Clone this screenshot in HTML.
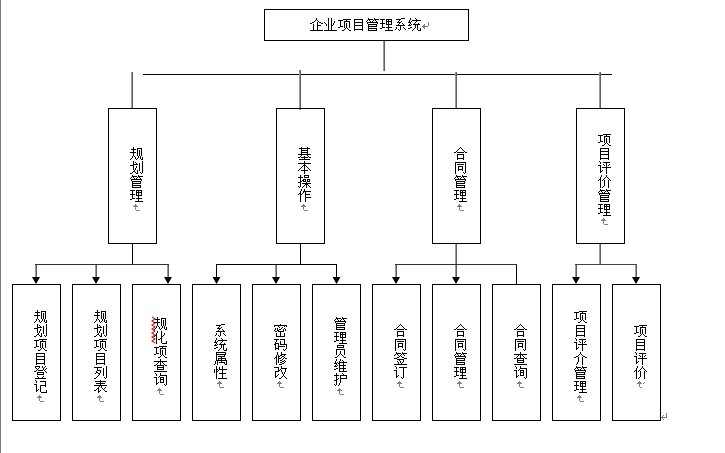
<!DOCTYPE html>
<html><head><meta charset="utf-8"><title>企业项目管理系统</title>
<style>html,body{margin:0;padding:0;background:#fff;width:725px;height:453px;overflow:hidden;font-family:"Liberation Sans",sans-serif;}svg{display:block}</style>
</head><body>
<svg width="725" height="453" viewBox="0 0 725 453" shape-rendering="crispEdges">
<rect width="725" height="453" fill="#fff"/>
<rect x="0" y="0" width="1" height="453" fill="#7a7a7a"/><path d="M264 9h205v1h-205z M264 40h205v1h-205z M264 9h1v32h-1z M468 9h1v32h-1z" fill="#000"/><rect x="383" y="41" width="1" height="30" fill="#9a9a9a"/><rect x="384" y="41" width="1" height="30" fill="#606060"/><rect x="143" y="74" width="469" height="1" fill="#000"/><rect x="131" y="72" width="1" height="36" fill="#9a9a9a"/><rect x="132" y="72" width="1" height="36" fill="#606060"/><rect x="299" y="70" width="1" height="40" fill="#9a9a9a"/><rect x="300" y="70" width="1" height="40" fill="#606060"/><rect x="455" y="72" width="1" height="36" fill="#9a9a9a"/><rect x="456" y="72" width="1" height="36" fill="#606060"/><rect x="599" y="72" width="1" height="36" fill="#9a9a9a"/><rect x="600" y="72" width="1" height="36" fill="#606060"/><path d="M108 108h49v1h-49z M108 243h49v1h-49z M108 108h1v136h-1z M156 108h1v136h-1z" fill="#000"/><path d="M276 108h49v1h-49z M276 243h49v1h-49z M276 108h1v136h-1z M324 108h1v136h-1z" fill="#000"/><path d="M432 108h49v1h-49z M432 243h49v1h-49z M432 108h1v136h-1z M480 108h1v136h-1z" fill="#000"/><path d="M576 108h49v1h-49z M576 243h49v1h-49z M576 108h1v136h-1z M624 108h1v136h-1z" fill="#000"/><rect x="132" y="244" width="1" height="20" fill="#000"/><rect x="300" y="244" width="1" height="20" fill="#000"/><rect x="455" y="244" width="1" height="33" fill="#9a9a9a"/><rect x="456" y="244" width="1" height="33" fill="#606060"/><rect x="599" y="244" width="1" height="20" fill="#9a9a9a"/><rect x="600" y="244" width="1" height="20" fill="#606060"/><rect x="35" y="264" width="134" height="1" fill="#333"/><rect x="216" y="264" width="121" height="1" fill="#000"/><rect x="395" y="264" width="122" height="1" fill="#333"/><rect x="575" y="264" width="62" height="1" fill="#444"/><rect x="35" y="265" width="1" height="12" fill="#9a9a9a"/><rect x="36" y="265" width="1" height="12" fill="#606060"/><rect x="95" y="265" width="1" height="12" fill="#9a9a9a"/><rect x="96" y="265" width="1" height="12" fill="#606060"/><rect x="167" y="265" width="1" height="12" fill="#9a9a9a"/><rect x="168" y="265" width="1" height="12" fill="#606060"/><rect x="275" y="265" width="1" height="12" fill="#9a9a9a"/><rect x="276" y="265" width="1" height="12" fill="#606060"/><rect x="395" y="265" width="1" height="12" fill="#9a9a9a"/><rect x="396" y="265" width="1" height="12" fill="#606060"/><rect x="575" y="265" width="1" height="12" fill="#9a9a9a"/><rect x="576" y="265" width="1" height="12" fill="#606060"/><rect x="635" y="265" width="1" height="12" fill="#9a9a9a"/><rect x="636" y="265" width="1" height="12" fill="#606060"/><rect x="216" y="265" width="1" height="12" fill="#000"/><rect x="336" y="265" width="1" height="12" fill="#000"/><rect x="516" y="265" width="1" height="19" fill="#000"/><path d="M32 277L40 277L36 284Z M92 277L100 277L96 284Z M164 277L172 277L168 284Z M272 277L280 277L276 284Z M392 277L400 277L396 284Z M452 277L460 277L456 284Z M572 277L580 277L576 284Z M632 277L640 277L636 284Z M212.5 277L220.5 277L216.5 284Z M332.5 277L340.5 277L336.5 284Z" fill="#000" shape-rendering="geometricPrecision"/><path d="M12 284h49v1h-49z M12 420h49v1h-49z M12 284h1v137h-1z M60 284h1v137h-1z" fill="#000"/><path d="M72 284h49v1h-49z M72 420h49v1h-49z M72 284h1v137h-1z M120 284h1v137h-1z" fill="#000"/><path d="M132 284h49v1h-49z M132 420h49v1h-49z M132 284h1v137h-1z M180 284h1v137h-1z" fill="#000"/><path d="M192 284h49v1h-49z M192 420h49v1h-49z M192 284h1v137h-1z M240 284h1v137h-1z" fill="#000"/><path d="M252 284h49v1h-49z M252 420h49v1h-49z M252 284h1v137h-1z M300 284h1v137h-1z" fill="#000"/><path d="M312 284h49v1h-49z M312 420h49v1h-49z M312 284h1v137h-1z M360 284h1v137h-1z" fill="#000"/><path d="M372 284h49v1h-49z M372 420h49v1h-49z M372 284h1v137h-1z M420 284h1v137h-1z" fill="#000"/><path d="M432 284h49v1h-49z M432 420h49v1h-49z M432 284h1v137h-1z M480 284h1v137h-1z" fill="#000"/><path d="M492 284h49v1h-49z M492 420h49v1h-49z M492 284h1v137h-1z M540 284h1v137h-1z" fill="#000"/><path d="M552 284h49v1h-49z M552 420h49v1h-49z M552 284h1v137h-1z M600 284h1v137h-1z" fill="#000"/><path d="M612 284h49v1h-49z M612 420h49v1h-49z M612 284h1v137h-1z M660 284h1v137h-1z" fill="#000"/><polyline points="152.0,317 155.0,319 152.0,321 155.0,323 152.0,325 155.0,327 152.0,329 155.0,331 152.0,333 155.0,335 152.0,337 155.0,339 152.0,341 155.0,343" fill="none" stroke="#c81e1e" stroke-width="1.1" shape-rendering="geometricPrecision"/>
<path d="M316 18h1v1h-1zM316 19h1v1h-1zM315 20h1v1h-1zM317 20h1v1h-1zM314 21h1v1h-1zM318 21h1v1h-1zM312 22h2v1h-2zM317 22h1v1h-1zM319 22h2v1h-2zM310 23h2v1h-2zM317 23h1v1h-1zM321 23h2v1h-2zM313 24h1v1h-1zM317 24h1v1h-1zM313 25h1v1h-1zM317 25h4v1h-4zM313 26h1v1h-1zM317 26h1v1h-1zM313 27h1v1h-1zM317 27h1v1h-1zM313 28h1v1h-1zM317 28h1v1h-1zM313 29h1v1h-1zM317 29h1v1h-1zM310 30h13v1h-13zM328 18h1v1h-1zM331 18h1v1h-1zM328 19h1v1h-1zM331 19h1v1h-1zM328 20h1v1h-1zM331 20h1v1h-1zM328 21h1v1h-1zM331 21h1v1h-1zM334 21h1v1h-1zM324 22h1v1h-1zM328 22h1v1h-1zM331 22h1v1h-1zM334 22h1v1h-1zM325 23h1v1h-1zM328 23h1v1h-1zM331 23h1v1h-1zM333 23h1v1h-1zM326 24h1v1h-1zM328 24h1v1h-1zM331 24h1v1h-1zM333 24h1v1h-1zM326 25h1v1h-1zM328 25h1v1h-1zM331 25h2v1h-2zM328 26h1v1h-1zM331 26h1v1h-1zM328 27h1v1h-1zM331 27h1v1h-1zM328 28h1v1h-1zM331 28h1v1h-1zM328 29h1v1h-1zM331 29h1v1h-1zM324 30h13v1h-13zM343 19h8v1h-8zM338 20h5v1h-5zM346 20h1v1h-1zM340 21h1v1h-1zM344 21h6v1h-6zM340 22h1v1h-1zM344 22h1v1h-1zM349 22h1v1h-1zM340 23h1v1h-1zM344 23h1v1h-1zM346 23h1v1h-1zM349 23h1v1h-1zM340 24h1v1h-1zM344 24h1v1h-1zM346 24h1v1h-1zM349 24h1v1h-1zM340 25h1v1h-1zM344 25h1v1h-1zM346 25h1v1h-1zM349 25h1v1h-1zM340 26h3v1h-3zM344 26h1v1h-1zM346 26h1v1h-1zM349 26h1v1h-1zM338 27h2v1h-2zM344 27h1v1h-1zM346 27h1v1h-1zM349 27h1v1h-1zM345 28h1v1h-1zM347 28h1v1h-1zM344 29h1v1h-1zM348 29h1v1h-1zM342 30h2v1h-2zM349 30h2v1h-2zM354 19h9v1h-9zM354 20h1v1h-1zM362 20h1v1h-1zM354 21h1v1h-1zM362 21h1v1h-1zM354 22h9v1h-9zM354 23h1v1h-1zM362 23h1v1h-1zM354 24h1v1h-1zM362 24h1v1h-1zM354 25h9v1h-9zM354 26h1v1h-1zM362 26h1v1h-1zM354 27h1v1h-1zM362 27h1v1h-1zM354 28h1v1h-1zM362 28h1v1h-1zM354 29h9v1h-9zM354 30h1v1h-1zM362 30h1v1h-1zM368 18h1v1h-1zM374 18h1v1h-1zM368 19h5v1h-5zM374 19h5v1h-5zM367 20h1v1h-1zM369 20h1v1h-1zM373 20h1v1h-1zM375 20h1v1h-1zM366 21h1v1h-1zM370 21h1v1h-1zM372 21h1v1h-1zM376 21h1v1h-1zM367 22h11v1h-11zM367 23h1v1h-1zM377 23h1v1h-1zM368 24h9v1h-9zM368 25h1v1h-1zM376 25h1v1h-1zM368 26h9v1h-9zM368 27h1v1h-1zM368 28h9v1h-9zM368 29h1v1h-1zM376 29h1v1h-1zM368 30h9v1h-9zM380 19h5v1h-5zM386 19h6v1h-6zM382 20h1v1h-1zM386 20h1v1h-1zM388 20h1v1h-1zM391 20h1v1h-1zM382 21h1v1h-1zM386 21h6v1h-6zM382 22h1v1h-1zM386 22h1v1h-1zM388 22h1v1h-1zM391 22h1v1h-1zM380 23h5v1h-5zM386 23h1v1h-1zM388 23h1v1h-1zM391 23h1v1h-1zM382 24h1v1h-1zM386 24h6v1h-6zM382 25h1v1h-1zM388 25h1v1h-1zM382 26h1v1h-1zM388 26h1v1h-1zM382 27h3v1h-3zM386 27h6v1h-6zM380 28h2v1h-2zM388 28h1v1h-1zM388 29h1v1h-1zM385 30h8v1h-8zM401 18h4v1h-4zM396 19h5v1h-5zM399 20h1v1h-1zM398 21h1v1h-1zM401 21h1v1h-1zM397 22h4v1h-4zM399 23h1v1h-1zM402 23h1v1h-1zM398 24h1v1h-1zM403 24h1v1h-1zM396 25h9v1h-9zM400 26h1v1h-1zM396 27h1v1h-1zM400 27h1v1h-1zM403 27h1v1h-1zM396 28h1v1h-1zM400 28h1v1h-1zM404 28h1v1h-1zM395 29h1v1h-1zM398 29h1v1h-1zM400 29h1v1h-1zM405 29h1v1h-1zM399 30h1v1h-1zM410 18h1v1h-1zM415 18h1v1h-1zM410 19h1v1h-1zM416 19h1v1h-1zM409 20h1v1h-1zM412 20h9v1h-9zM409 21h1v1h-1zM411 21h1v1h-1zM416 21h1v1h-1zM408 22h3v1h-3zM415 22h1v1h-1zM410 23h1v1h-1zM414 23h1v1h-1zM418 23h1v1h-1zM409 24h1v1h-1zM411 24h1v1h-1zM413 24h7v1h-7zM408 25h3v1h-3zM415 25h1v1h-1zM417 25h1v1h-1zM415 26h1v1h-1zM417 26h1v1h-1zM410 27h2v1h-2zM415 27h1v1h-1zM417 27h1v1h-1zM408 28h2v1h-2zM414 28h1v1h-1zM417 28h1v1h-1zM420 28h1v1h-1zM413 29h1v1h-1zM417 29h1v1h-1zM420 29h1v1h-1zM412 30h1v1h-1zM418 30h3v1h-3zM133 147h1v1h-1zM133 148h1v1h-1zM137 148h5v1h-5zM131 149h5v1h-5zM137 149h1v1h-1zM141 149h1v1h-1zM133 150h1v1h-1zM137 150h1v1h-1zM139 150h1v1h-1zM141 150h1v1h-1zM133 151h1v1h-1zM137 151h1v1h-1zM139 151h1v1h-1zM141 151h1v1h-1zM130 152h6v1h-6zM137 152h1v1h-1zM139 152h1v1h-1zM141 152h1v1h-1zM133 153h1v1h-1zM137 153h1v1h-1zM139 153h1v1h-1zM141 153h1v1h-1zM133 154h1v1h-1zM137 154h1v1h-1zM139 154h1v1h-1zM141 154h1v1h-1zM133 155h1v1h-1zM137 155h1v1h-1zM139 155h1v1h-1zM141 155h1v1h-1zM132 156h1v1h-1zM134 156h1v1h-1zM138 156h1v1h-1zM140 156h1v1h-1zM132 157h1v1h-1zM135 157h1v1h-1zM138 157h1v1h-1zM140 157h1v1h-1zM142 157h1v1h-1zM131 158h1v1h-1zM135 158h1v1h-1zM137 158h1v1h-1zM140 158h1v1h-1zM142 158h1v1h-1zM130 159h1v1h-1zM136 159h1v1h-1zM141 159h2v1h-2zM133 161h1v1h-1zM142 161h1v1h-1zM133 162h1v1h-1zM135 162h1v1h-1zM142 162h1v1h-1zM133 163h1v1h-1zM136 163h1v1h-1zM139 163h1v1h-1zM142 163h1v1h-1zM133 164h5v1h-5zM139 164h1v1h-1zM142 164h1v1h-1zM130 165h4v1h-4zM139 165h1v1h-1zM142 165h1v1h-1zM133 166h1v1h-1zM136 166h1v1h-1zM139 166h1v1h-1zM142 166h1v1h-1zM133 167h1v1h-1zM136 167h1v1h-1zM139 167h1v1h-1zM142 167h1v1h-1zM133 168h1v1h-1zM135 168h1v1h-1zM139 168h1v1h-1zM142 168h1v1h-1zM133 169h1v1h-1zM135 169h1v1h-1zM139 169h1v1h-1zM142 169h1v1h-1zM134 170h1v1h-1zM137 170h1v1h-1zM139 170h1v1h-1zM142 170h1v1h-1zM133 171h2v1h-2zM137 171h1v1h-1zM142 171h1v1h-1zM132 172h1v1h-1zM135 172h1v1h-1zM137 172h1v1h-1zM140 172h1v1h-1zM142 172h1v1h-1zM130 173h2v1h-2zM136 173h2v1h-2zM141 173h1v1h-1zM132 175h1v1h-1zM138 175h1v1h-1zM132 176h5v1h-5zM138 176h5v1h-5zM131 177h1v1h-1zM133 177h1v1h-1zM137 177h1v1h-1zM139 177h1v1h-1zM130 178h1v1h-1zM134 178h1v1h-1zM136 178h1v1h-1zM140 178h1v1h-1zM131 179h11v1h-11zM131 180h1v1h-1zM141 180h1v1h-1zM132 181h9v1h-9zM132 182h1v1h-1zM140 182h1v1h-1zM132 183h9v1h-9zM132 184h1v1h-1zM132 185h9v1h-9zM132 186h1v1h-1zM140 186h1v1h-1zM132 187h9v1h-9zM130 190h5v1h-5zM136 190h6v1h-6zM132 191h1v1h-1zM136 191h1v1h-1zM138 191h1v1h-1zM141 191h1v1h-1zM132 192h1v1h-1zM136 192h6v1h-6zM132 193h1v1h-1zM136 193h1v1h-1zM138 193h1v1h-1zM141 193h1v1h-1zM130 194h5v1h-5zM136 194h1v1h-1zM138 194h1v1h-1zM141 194h1v1h-1zM132 195h1v1h-1zM136 195h6v1h-6zM132 196h1v1h-1zM138 196h1v1h-1zM132 197h1v1h-1zM138 197h1v1h-1zM132 198h3v1h-3zM136 198h6v1h-6zM130 199h2v1h-2zM138 199h1v1h-1zM138 200h1v1h-1zM135 201h8v1h-8zM301 147h1v1h-1zM307 147h1v1h-1zM299 148h11v1h-11zM301 149h1v1h-1zM307 149h1v1h-1zM301 150h7v1h-7zM301 151h1v1h-1zM307 151h1v1h-1zM301 152h7v1h-7zM301 153h1v1h-1zM307 153h1v1h-1zM298 154h13v1h-13zM301 155h1v1h-1zM307 155h1v1h-1zM300 156h1v1h-1zM304 156h1v1h-1zM308 156h1v1h-1zM298 157h2v1h-2zM301 157h7v1h-7zM309 157h2v1h-2zM304 158h1v1h-1zM299 159h11v1h-11zM304 161h1v1h-1zM304 162h1v1h-1zM298 163h13v1h-13zM304 164h1v1h-1zM303 165h3v1h-3zM302 166h1v1h-1zM304 166h1v1h-1zM306 166h1v1h-1zM301 167h1v1h-1zM304 167h1v1h-1zM307 167h1v1h-1zM300 168h1v1h-1zM304 168h1v1h-1zM308 168h1v1h-1zM299 169h1v1h-1zM304 169h1v1h-1zM309 169h1v1h-1zM298 170h1v1h-1zM301 170h7v1h-7zM310 170h1v1h-1zM304 171h1v1h-1zM304 172h1v1h-1zM304 173h1v1h-1zM300 175h1v1h-1zM304 175h5v1h-5zM300 176h1v1h-1zM304 176h1v1h-1zM308 176h1v1h-1zM298 177h5v1h-5zM304 177h5v1h-5zM300 178h1v1h-1zM300 179h1v1h-1zM303 179h3v1h-3zM307 179h3v1h-3zM300 180h1v1h-1zM302 180h2v1h-2zM305 180h1v1h-1zM307 180h1v1h-1zM309 180h1v1h-1zM300 181h2v1h-2zM303 181h3v1h-3zM307 181h3v1h-3zM298 182h3v1h-3zM306 182h1v1h-1zM300 183h1v1h-1zM302 183h9v1h-9zM300 184h1v1h-1zM305 184h3v1h-3zM300 185h1v1h-1zM304 185h1v1h-1zM306 185h1v1h-1zM308 185h1v1h-1zM298 186h1v1h-1zM300 186h1v1h-1zM303 186h1v1h-1zM306 186h1v1h-1zM309 186h1v1h-1zM299 187h1v1h-1zM302 187h1v1h-1zM306 187h1v1h-1zM310 187h1v1h-1zM301 189h1v1h-1zM304 189h1v1h-1zM301 190h1v1h-1zM304 190h1v1h-1zM300 191h1v1h-1zM303 191h8v1h-8zM300 192h1v1h-1zM303 192h1v1h-1zM305 192h1v1h-1zM299 193h2v1h-2zM302 193h1v1h-1zM305 193h1v1h-1zM298 194h1v1h-1zM300 194h2v1h-2zM305 194h5v1h-5zM300 195h1v1h-1zM305 195h1v1h-1zM300 196h1v1h-1zM305 196h1v1h-1zM300 197h1v1h-1zM305 197h6v1h-6zM300 198h1v1h-1zM305 198h1v1h-1zM300 199h1v1h-1zM305 199h1v1h-1zM300 200h1v1h-1zM305 200h1v1h-1zM300 201h1v1h-1zM305 201h1v1h-1zM460 147h1v1h-1zM459 148h1v1h-1zM461 148h1v1h-1zM458 149h1v1h-1zM462 149h1v1h-1zM457 150h1v1h-1zM463 150h1v1h-1zM456 151h1v1h-1zM464 151h1v1h-1zM454 152h2v1h-2zM457 152h7v1h-7zM465 152h2v1h-2zM457 154h7v1h-7zM457 155h1v1h-1zM463 155h1v1h-1zM457 156h1v1h-1zM463 156h1v1h-1zM457 157h1v1h-1zM463 157h1v1h-1zM457 158h7v1h-7zM457 159h1v1h-1zM463 159h1v1h-1zM455 162h11v1h-11zM455 163h1v1h-1zM465 163h1v1h-1zM455 164h1v1h-1zM457 164h7v1h-7zM465 164h1v1h-1zM455 165h1v1h-1zM465 165h1v1h-1zM455 166h1v1h-1zM458 166h5v1h-5zM465 166h1v1h-1zM455 167h1v1h-1zM458 167h1v1h-1zM462 167h1v1h-1zM465 167h1v1h-1zM455 168h1v1h-1zM458 168h1v1h-1zM462 168h1v1h-1zM465 168h1v1h-1zM455 169h1v1h-1zM458 169h5v1h-5zM465 169h1v1h-1zM455 170h1v1h-1zM458 170h1v1h-1zM462 170h1v1h-1zM465 170h1v1h-1zM455 171h1v1h-1zM465 171h1v1h-1zM455 172h1v1h-1zM463 172h1v1h-1zM465 172h1v1h-1zM455 173h1v1h-1zM464 173h1v1h-1zM456 175h1v1h-1zM462 175h1v1h-1zM456 176h5v1h-5zM462 176h5v1h-5zM455 177h1v1h-1zM457 177h1v1h-1zM461 177h1v1h-1zM463 177h1v1h-1zM454 178h1v1h-1zM458 178h1v1h-1zM460 178h1v1h-1zM464 178h1v1h-1zM455 179h11v1h-11zM455 180h1v1h-1zM465 180h1v1h-1zM456 181h9v1h-9zM456 182h1v1h-1zM464 182h1v1h-1zM456 183h9v1h-9zM456 184h1v1h-1zM456 185h9v1h-9zM456 186h1v1h-1zM464 186h1v1h-1zM456 187h9v1h-9zM454 190h5v1h-5zM460 190h6v1h-6zM456 191h1v1h-1zM460 191h1v1h-1zM462 191h1v1h-1zM465 191h1v1h-1zM456 192h1v1h-1zM460 192h6v1h-6zM456 193h1v1h-1zM460 193h1v1h-1zM462 193h1v1h-1zM465 193h1v1h-1zM454 194h5v1h-5zM460 194h1v1h-1zM462 194h1v1h-1zM465 194h1v1h-1zM456 195h1v1h-1zM460 195h6v1h-6zM456 196h1v1h-1zM462 196h1v1h-1zM456 197h1v1h-1zM462 197h1v1h-1zM456 198h3v1h-3zM460 198h6v1h-6zM454 199h2v1h-2zM462 199h1v1h-1zM462 200h1v1h-1zM459 201h8v1h-8zM603 134h8v1h-8zM598 135h5v1h-5zM606 135h1v1h-1zM600 136h1v1h-1zM604 136h6v1h-6zM600 137h1v1h-1zM604 137h1v1h-1zM609 137h1v1h-1zM600 138h1v1h-1zM604 138h1v1h-1zM606 138h1v1h-1zM609 138h1v1h-1zM600 139h1v1h-1zM604 139h1v1h-1zM606 139h1v1h-1zM609 139h1v1h-1zM600 140h1v1h-1zM604 140h1v1h-1zM606 140h1v1h-1zM609 140h1v1h-1zM600 141h3v1h-3zM604 141h1v1h-1zM606 141h1v1h-1zM609 141h1v1h-1zM598 142h2v1h-2zM604 142h1v1h-1zM606 142h1v1h-1zM609 142h1v1h-1zM605 143h1v1h-1zM607 143h1v1h-1zM604 144h1v1h-1zM608 144h1v1h-1zM602 145h2v1h-2zM609 145h2v1h-2zM600 148h9v1h-9zM600 149h1v1h-1zM608 149h1v1h-1zM600 150h1v1h-1zM608 150h1v1h-1zM600 151h9v1h-9zM600 152h1v1h-1zM608 152h1v1h-1zM600 153h1v1h-1zM608 153h1v1h-1zM600 154h9v1h-9zM600 155h1v1h-1zM608 155h1v1h-1zM600 156h1v1h-1zM608 156h1v1h-1zM600 157h1v1h-1zM608 157h1v1h-1zM600 158h9v1h-9zM600 159h1v1h-1zM608 159h1v1h-1zM599 161h1v1h-1zM600 162h1v1h-1zM603 162h7v1h-7zM600 163h1v1h-1zM606 163h1v1h-1zM603 164h1v1h-1zM606 164h1v1h-1zM609 164h1v1h-1zM598 165h3v1h-3zM604 165h1v1h-1zM606 165h1v1h-1zM608 165h1v1h-1zM600 166h1v1h-1zM606 166h1v1h-1zM600 167h1v1h-1zM602 167h9v1h-9zM600 168h1v1h-1zM606 168h1v1h-1zM600 169h1v1h-1zM606 169h1v1h-1zM600 170h1v1h-1zM602 170h1v1h-1zM606 170h1v1h-1zM600 171h2v1h-2zM606 171h1v1h-1zM600 172h1v1h-1zM606 172h1v1h-1zM606 173h1v1h-1zM601 175h1v1h-1zM606 175h1v1h-1zM601 176h1v1h-1zM606 176h1v1h-1zM600 177h1v1h-1zM605 177h1v1h-1zM607 177h1v1h-1zM600 178h1v1h-1zM604 178h1v1h-1zM608 178h1v1h-1zM599 179h2v1h-2zM603 179h1v1h-1zM609 179h1v1h-1zM598 180h1v1h-1zM600 180h1v1h-1zM602 180h1v1h-1zM604 180h1v1h-1zM608 180h1v1h-1zM610 180h1v1h-1zM600 181h1v1h-1zM604 181h1v1h-1zM608 181h1v1h-1zM600 182h1v1h-1zM604 182h1v1h-1zM608 182h1v1h-1zM600 183h1v1h-1zM604 183h1v1h-1zM608 183h1v1h-1zM600 184h1v1h-1zM604 184h1v1h-1zM608 184h1v1h-1zM600 185h1v1h-1zM604 185h1v1h-1zM608 185h1v1h-1zM600 186h1v1h-1zM603 186h1v1h-1zM608 186h1v1h-1zM600 187h1v1h-1zM602 187h1v1h-1zM608 187h1v1h-1zM600 189h1v1h-1zM606 189h1v1h-1zM600 190h5v1h-5zM606 190h5v1h-5zM599 191h1v1h-1zM601 191h1v1h-1zM605 191h1v1h-1zM607 191h1v1h-1zM598 192h1v1h-1zM602 192h1v1h-1zM604 192h1v1h-1zM608 192h1v1h-1zM599 193h11v1h-11zM599 194h1v1h-1zM609 194h1v1h-1zM600 195h9v1h-9zM600 196h1v1h-1zM608 196h1v1h-1zM600 197h9v1h-9zM600 198h1v1h-1zM600 199h9v1h-9zM600 200h1v1h-1zM608 200h1v1h-1zM600 201h9v1h-9zM598 204h5v1h-5zM604 204h6v1h-6zM600 205h1v1h-1zM604 205h1v1h-1zM606 205h1v1h-1zM609 205h1v1h-1zM600 206h1v1h-1zM604 206h6v1h-6zM600 207h1v1h-1zM604 207h1v1h-1zM606 207h1v1h-1zM609 207h1v1h-1zM598 208h5v1h-5zM604 208h1v1h-1zM606 208h1v1h-1zM609 208h1v1h-1zM600 209h1v1h-1zM604 209h6v1h-6zM600 210h1v1h-1zM606 210h1v1h-1zM600 211h1v1h-1zM606 211h1v1h-1zM600 212h3v1h-3zM604 212h6v1h-6zM598 213h2v1h-2zM606 213h1v1h-1zM606 214h1v1h-1zM603 215h8v1h-8zM37 310h1v1h-1zM37 311h1v1h-1zM41 311h5v1h-5zM35 312h5v1h-5zM41 312h1v1h-1zM45 312h1v1h-1zM37 313h1v1h-1zM41 313h1v1h-1zM43 313h1v1h-1zM45 313h1v1h-1zM37 314h1v1h-1zM41 314h1v1h-1zM43 314h1v1h-1zM45 314h1v1h-1zM34 315h6v1h-6zM41 315h1v1h-1zM43 315h1v1h-1zM45 315h1v1h-1zM37 316h1v1h-1zM41 316h1v1h-1zM43 316h1v1h-1zM45 316h1v1h-1zM37 317h1v1h-1zM41 317h1v1h-1zM43 317h1v1h-1zM45 317h1v1h-1zM37 318h1v1h-1zM41 318h1v1h-1zM43 318h1v1h-1zM45 318h1v1h-1zM36 319h1v1h-1zM38 319h1v1h-1zM42 319h1v1h-1zM44 319h1v1h-1zM36 320h1v1h-1zM39 320h1v1h-1zM42 320h1v1h-1zM44 320h1v1h-1zM46 320h1v1h-1zM35 321h1v1h-1zM39 321h1v1h-1zM41 321h1v1h-1zM44 321h1v1h-1zM46 321h1v1h-1zM34 322h1v1h-1zM40 322h1v1h-1zM45 322h2v1h-2zM37 324h1v1h-1zM46 324h1v1h-1zM37 325h1v1h-1zM39 325h1v1h-1zM46 325h1v1h-1zM37 326h1v1h-1zM40 326h1v1h-1zM43 326h1v1h-1zM46 326h1v1h-1zM37 327h5v1h-5zM43 327h1v1h-1zM46 327h1v1h-1zM34 328h4v1h-4zM43 328h1v1h-1zM46 328h1v1h-1zM37 329h1v1h-1zM40 329h1v1h-1zM43 329h1v1h-1zM46 329h1v1h-1zM37 330h1v1h-1zM40 330h1v1h-1zM43 330h1v1h-1zM46 330h1v1h-1zM37 331h1v1h-1zM39 331h1v1h-1zM43 331h1v1h-1zM46 331h1v1h-1zM37 332h1v1h-1zM39 332h1v1h-1zM43 332h1v1h-1zM46 332h1v1h-1zM38 333h1v1h-1zM41 333h1v1h-1zM43 333h1v1h-1zM46 333h1v1h-1zM37 334h2v1h-2zM41 334h1v1h-1zM46 334h1v1h-1zM36 335h1v1h-1zM39 335h1v1h-1zM41 335h1v1h-1zM44 335h1v1h-1zM46 335h1v1h-1zM34 336h2v1h-2zM40 336h2v1h-2zM45 336h1v1h-1zM39 339h8v1h-8zM34 340h5v1h-5zM42 340h1v1h-1zM36 341h1v1h-1zM40 341h6v1h-6zM36 342h1v1h-1zM40 342h1v1h-1zM45 342h1v1h-1zM36 343h1v1h-1zM40 343h1v1h-1zM42 343h1v1h-1zM45 343h1v1h-1zM36 344h1v1h-1zM40 344h1v1h-1zM42 344h1v1h-1zM45 344h1v1h-1zM36 345h1v1h-1zM40 345h1v1h-1zM42 345h1v1h-1zM45 345h1v1h-1zM36 346h3v1h-3zM40 346h1v1h-1zM42 346h1v1h-1zM45 346h1v1h-1zM34 347h2v1h-2zM40 347h1v1h-1zM42 347h1v1h-1zM45 347h1v1h-1zM41 348h1v1h-1zM43 348h1v1h-1zM40 349h1v1h-1zM44 349h1v1h-1zM38 350h2v1h-2zM45 350h2v1h-2zM36 353h9v1h-9zM36 354h1v1h-1zM44 354h1v1h-1zM36 355h1v1h-1zM44 355h1v1h-1zM36 356h9v1h-9zM36 357h1v1h-1zM44 357h1v1h-1zM36 358h1v1h-1zM44 358h1v1h-1zM36 359h9v1h-9zM36 360h1v1h-1zM44 360h1v1h-1zM36 361h1v1h-1zM44 361h1v1h-1zM36 362h1v1h-1zM44 362h1v1h-1zM36 363h9v1h-9zM36 364h1v1h-1zM44 364h1v1h-1zM35 366h5v1h-5zM42 366h1v1h-1zM45 366h1v1h-1zM35 367h1v1h-1zM39 367h1v1h-1zM42 367h1v1h-1zM44 367h1v1h-1zM36 368h1v1h-1zM38 368h1v1h-1zM43 368h1v1h-1zM46 368h1v1h-1zM37 369h1v1h-1zM43 369h1v1h-1zM45 369h1v1h-1zM36 370h1v1h-1zM38 370h5v1h-5zM44 370h1v1h-1zM34 371h2v1h-2zM45 371h1v1h-1zM37 372h7v1h-7zM46 372h1v1h-1zM37 373h1v1h-1zM43 373h1v1h-1zM37 374h7v1h-7zM37 376h1v1h-1zM43 376h1v1h-1zM38 377h1v1h-1zM42 377h1v1h-1zM35 378h11v1h-11zM35 380h1v1h-1zM36 381h1v1h-1zM40 381h6v1h-6zM36 382h1v1h-1zM45 382h1v1h-1zM45 383h1v1h-1zM34 384h3v1h-3zM45 384h1v1h-1zM36 385h1v1h-1zM40 385h6v1h-6zM36 386h1v1h-1zM40 386h1v1h-1zM45 386h1v1h-1zM36 387h1v1h-1zM40 387h1v1h-1zM36 388h1v1h-1zM40 388h1v1h-1zM36 389h1v1h-1zM38 389h1v1h-1zM40 389h1v1h-1zM36 390h2v1h-2zM40 390h1v1h-1zM46 390h1v1h-1zM36 391h1v1h-1zM40 391h1v1h-1zM46 391h1v1h-1zM41 392h6v1h-6zM97 310h1v1h-1zM97 311h1v1h-1zM101 311h5v1h-5zM95 312h5v1h-5zM101 312h1v1h-1zM105 312h1v1h-1zM97 313h1v1h-1zM101 313h1v1h-1zM103 313h1v1h-1zM105 313h1v1h-1zM97 314h1v1h-1zM101 314h1v1h-1zM103 314h1v1h-1zM105 314h1v1h-1zM94 315h6v1h-6zM101 315h1v1h-1zM103 315h1v1h-1zM105 315h1v1h-1zM97 316h1v1h-1zM101 316h1v1h-1zM103 316h1v1h-1zM105 316h1v1h-1zM97 317h1v1h-1zM101 317h1v1h-1zM103 317h1v1h-1zM105 317h1v1h-1zM97 318h1v1h-1zM101 318h1v1h-1zM103 318h1v1h-1zM105 318h1v1h-1zM96 319h1v1h-1zM98 319h1v1h-1zM102 319h1v1h-1zM104 319h1v1h-1zM96 320h1v1h-1zM99 320h1v1h-1zM102 320h1v1h-1zM104 320h1v1h-1zM106 320h1v1h-1zM95 321h1v1h-1zM99 321h1v1h-1zM101 321h1v1h-1zM104 321h1v1h-1zM106 321h1v1h-1zM94 322h1v1h-1zM100 322h1v1h-1zM105 322h2v1h-2zM97 324h1v1h-1zM106 324h1v1h-1zM97 325h1v1h-1zM99 325h1v1h-1zM106 325h1v1h-1zM97 326h1v1h-1zM100 326h1v1h-1zM103 326h1v1h-1zM106 326h1v1h-1zM97 327h5v1h-5zM103 327h1v1h-1zM106 327h1v1h-1zM94 328h4v1h-4zM103 328h1v1h-1zM106 328h1v1h-1zM97 329h1v1h-1zM100 329h1v1h-1zM103 329h1v1h-1zM106 329h1v1h-1zM97 330h1v1h-1zM100 330h1v1h-1zM103 330h1v1h-1zM106 330h1v1h-1zM97 331h1v1h-1zM99 331h1v1h-1zM103 331h1v1h-1zM106 331h1v1h-1zM97 332h1v1h-1zM99 332h1v1h-1zM103 332h1v1h-1zM106 332h1v1h-1zM98 333h1v1h-1zM101 333h1v1h-1zM103 333h1v1h-1zM106 333h1v1h-1zM97 334h2v1h-2zM101 334h1v1h-1zM106 334h1v1h-1zM96 335h1v1h-1zM99 335h1v1h-1zM101 335h1v1h-1zM104 335h1v1h-1zM106 335h1v1h-1zM94 336h2v1h-2zM100 336h2v1h-2zM105 336h1v1h-1zM99 339h8v1h-8zM94 340h5v1h-5zM102 340h1v1h-1zM96 341h1v1h-1zM100 341h6v1h-6zM96 342h1v1h-1zM100 342h1v1h-1zM105 342h1v1h-1zM96 343h1v1h-1zM100 343h1v1h-1zM102 343h1v1h-1zM105 343h1v1h-1zM96 344h1v1h-1zM100 344h1v1h-1zM102 344h1v1h-1zM105 344h1v1h-1zM96 345h1v1h-1zM100 345h1v1h-1zM102 345h1v1h-1zM105 345h1v1h-1zM96 346h3v1h-3zM100 346h1v1h-1zM102 346h1v1h-1zM105 346h1v1h-1zM94 347h2v1h-2zM100 347h1v1h-1zM102 347h1v1h-1zM105 347h1v1h-1zM101 348h1v1h-1zM103 348h1v1h-1zM100 349h1v1h-1zM104 349h1v1h-1zM98 350h2v1h-2zM105 350h2v1h-2zM96 353h9v1h-9zM96 354h1v1h-1zM104 354h1v1h-1zM96 355h1v1h-1zM104 355h1v1h-1zM96 356h9v1h-9zM96 357h1v1h-1zM104 357h1v1h-1zM96 358h1v1h-1zM104 358h1v1h-1zM96 359h9v1h-9zM96 360h1v1h-1zM104 360h1v1h-1zM96 361h1v1h-1zM104 361h1v1h-1zM96 362h1v1h-1zM104 362h1v1h-1zM96 363h9v1h-9zM96 364h1v1h-1zM104 364h1v1h-1zM106 366h1v1h-1zM94 367h8v1h-8zM106 367h1v1h-1zM97 368h1v1h-1zM103 368h1v1h-1zM106 368h1v1h-1zM97 369h1v1h-1zM103 369h1v1h-1zM106 369h1v1h-1zM97 370h4v1h-4zM103 370h1v1h-1zM106 370h1v1h-1zM96 371h1v1h-1zM100 371h1v1h-1zM103 371h1v1h-1zM106 371h1v1h-1zM96 372h2v1h-2zM100 372h1v1h-1zM103 372h1v1h-1zM106 372h1v1h-1zM95 373h1v1h-1zM98 373h2v1h-2zM103 373h1v1h-1zM106 373h1v1h-1zM99 374h1v1h-1zM103 374h1v1h-1zM106 374h1v1h-1zM98 375h1v1h-1zM103 375h1v1h-1zM106 375h1v1h-1zM97 376h1v1h-1zM106 376h1v1h-1zM96 377h1v1h-1zM104 377h1v1h-1zM106 377h1v1h-1zM94 378h2v1h-2zM105 378h1v1h-1zM100 380h1v1h-1zM95 381h11v1h-11zM100 382h1v1h-1zM96 383h9v1h-9zM100 384h1v1h-1zM94 385h13v1h-13zM99 386h1v1h-1zM101 386h1v1h-1zM98 387h1v1h-1zM101 387h1v1h-1zM105 387h1v1h-1zM97 388h2v1h-2zM102 388h1v1h-1zM104 388h1v1h-1zM96 389h1v1h-1zM98 389h1v1h-1zM103 389h1v1h-1zM94 390h2v1h-2zM98 390h1v1h-1zM100 390h1v1h-1zM104 390h1v1h-1zM98 391h2v1h-2zM105 391h2v1h-2zM98 392h1v1h-1zM157 317h1v1h-1zM157 318h1v1h-1zM161 318h5v1h-5zM155 319h5v1h-5zM161 319h1v1h-1zM165 319h1v1h-1zM157 320h1v1h-1zM161 320h1v1h-1zM163 320h1v1h-1zM165 320h1v1h-1zM157 321h1v1h-1zM161 321h1v1h-1zM163 321h1v1h-1zM165 321h1v1h-1zM154 322h6v1h-6zM161 322h1v1h-1zM163 322h1v1h-1zM165 322h1v1h-1zM157 323h1v1h-1zM161 323h1v1h-1zM163 323h1v1h-1zM165 323h1v1h-1zM157 324h1v1h-1zM161 324h1v1h-1zM163 324h1v1h-1zM165 324h1v1h-1zM157 325h1v1h-1zM161 325h1v1h-1zM163 325h1v1h-1zM165 325h1v1h-1zM156 326h1v1h-1zM158 326h1v1h-1zM162 326h1v1h-1zM164 326h1v1h-1zM156 327h1v1h-1zM159 327h1v1h-1zM162 327h1v1h-1zM164 327h1v1h-1zM166 327h1v1h-1zM155 328h1v1h-1zM159 328h1v1h-1zM161 328h1v1h-1zM164 328h1v1h-1zM166 328h1v1h-1zM154 329h1v1h-1zM160 329h1v1h-1zM165 329h2v1h-2zM157 331h1v1h-1zM161 331h1v1h-1zM157 332h1v1h-1zM161 332h1v1h-1zM156 333h1v1h-1zM161 333h1v1h-1zM164 333h1v1h-1zM156 334h1v1h-1zM161 334h1v1h-1zM164 334h1v1h-1zM155 335h2v1h-2zM161 335h1v1h-1zM163 335h1v1h-1zM154 336h1v1h-1zM156 336h1v1h-1zM161 336h2v1h-2zM156 337h1v1h-1zM161 337h1v1h-1zM156 338h1v1h-1zM160 338h2v1h-2zM156 339h1v1h-1zM158 339h2v1h-2zM161 339h1v1h-1zM156 340h1v1h-1zM161 340h1v1h-1zM156 341h1v1h-1zM161 341h1v1h-1zM166 341h1v1h-1zM156 342h1v1h-1zM161 342h1v1h-1zM166 342h1v1h-1zM156 343h1v1h-1zM162 343h5v1h-5zM159 346h8v1h-8zM154 347h5v1h-5zM162 347h1v1h-1zM156 348h1v1h-1zM160 348h6v1h-6zM156 349h1v1h-1zM160 349h1v1h-1zM165 349h1v1h-1zM156 350h1v1h-1zM160 350h1v1h-1zM162 350h1v1h-1zM165 350h1v1h-1zM156 351h1v1h-1zM160 351h1v1h-1zM162 351h1v1h-1zM165 351h1v1h-1zM156 352h1v1h-1zM160 352h1v1h-1zM162 352h1v1h-1zM165 352h1v1h-1zM156 353h3v1h-3zM160 353h1v1h-1zM162 353h1v1h-1zM165 353h1v1h-1zM154 354h2v1h-2zM160 354h1v1h-1zM162 354h1v1h-1zM165 354h1v1h-1zM161 355h1v1h-1zM163 355h1v1h-1zM160 356h1v1h-1zM164 356h1v1h-1zM158 357h2v1h-2zM165 357h2v1h-2zM160 359h1v1h-1zM160 360h1v1h-1zM154 361h13v1h-13zM158 362h1v1h-1zM160 362h1v1h-1zM162 362h1v1h-1zM157 363h1v1h-1zM160 363h1v1h-1zM163 363h1v1h-1zM156 364h1v1h-1zM160 364h1v1h-1zM164 364h1v1h-1zM154 365h2v1h-2zM157 365h7v1h-7zM165 365h2v1h-2zM157 366h1v1h-1zM163 366h1v1h-1zM157 367h7v1h-7zM157 368h1v1h-1zM163 368h1v1h-1zM157 369h7v1h-7zM154 371h13v1h-13zM155 373h1v1h-1zM160 373h1v1h-1zM156 374h1v1h-1zM160 374h1v1h-1zM156 375h1v1h-1zM160 375h7v1h-7zM159 376h1v1h-1zM166 376h1v1h-1zM154 377h3v1h-3zM158 377h1v1h-1zM160 377h4v1h-4zM166 377h1v1h-1zM156 378h1v1h-1zM160 378h1v1h-1zM163 378h1v1h-1zM166 378h1v1h-1zM156 379h1v1h-1zM160 379h4v1h-4zM166 379h1v1h-1zM156 380h1v1h-1zM160 380h1v1h-1zM163 380h1v1h-1zM166 380h1v1h-1zM156 381h1v1h-1zM160 381h1v1h-1zM163 381h1v1h-1zM166 381h1v1h-1zM156 382h1v1h-1zM158 382h1v1h-1zM160 382h4v1h-4zM166 382h1v1h-1zM156 383h2v1h-2zM166 383h1v1h-1zM156 384h1v1h-1zM164 384h1v1h-1zM166 384h1v1h-1zM165 385h1v1h-1zM221 324h4v1h-4zM216 325h5v1h-5zM219 326h1v1h-1zM218 327h1v1h-1zM221 327h1v1h-1zM217 328h4v1h-4zM219 329h1v1h-1zM222 329h1v1h-1zM218 330h1v1h-1zM223 330h1v1h-1zM216 331h9v1h-9zM220 332h1v1h-1zM216 333h1v1h-1zM220 333h1v1h-1zM223 333h1v1h-1zM216 334h1v1h-1zM220 334h1v1h-1zM224 334h1v1h-1zM215 335h1v1h-1zM218 335h1v1h-1zM220 335h1v1h-1zM225 335h1v1h-1zM219 336h1v1h-1zM216 338h1v1h-1zM221 338h1v1h-1zM216 339h1v1h-1zM222 339h1v1h-1zM215 340h1v1h-1zM218 340h9v1h-9zM215 341h1v1h-1zM217 341h1v1h-1zM222 341h1v1h-1zM214 342h3v1h-3zM221 342h1v1h-1zM216 343h1v1h-1zM220 343h1v1h-1zM224 343h1v1h-1zM215 344h1v1h-1zM217 344h1v1h-1zM219 344h7v1h-7zM214 345h3v1h-3zM221 345h1v1h-1zM223 345h1v1h-1zM221 346h1v1h-1zM223 346h1v1h-1zM216 347h2v1h-2zM221 347h1v1h-1zM223 347h1v1h-1zM214 348h2v1h-2zM220 348h1v1h-1zM223 348h1v1h-1zM226 348h1v1h-1zM219 349h1v1h-1zM223 349h1v1h-1zM226 349h1v1h-1zM218 350h1v1h-1zM224 350h3v1h-3zM216 352h10v1h-10zM216 353h1v1h-1zM225 353h1v1h-1zM216 354h10v1h-10zM216 355h1v1h-1zM224 355h1v1h-1zM216 356h1v1h-1zM218 356h7v1h-7zM216 357h1v1h-1zM221 357h1v1h-1zM216 358h1v1h-1zM218 358h8v1h-8zM216 359h1v1h-1zM218 359h1v1h-1zM221 359h1v1h-1zM225 359h1v1h-1zM216 360h11v1h-11zM215 361h1v1h-1zM217 361h1v1h-1zM221 361h1v1h-1zM226 361h1v1h-1zM215 362h1v1h-1zM217 362h1v1h-1zM219 362h6v1h-6zM226 362h1v1h-1zM215 363h1v1h-1zM217 363h1v1h-1zM224 363h1v1h-1zM226 363h1v1h-1zM214 364h1v1h-1zM217 364h1v1h-1zM225 364h2v1h-2zM216 366h1v1h-1zM222 366h1v1h-1zM216 367h1v1h-1zM219 367h1v1h-1zM222 367h1v1h-1zM216 368h1v1h-1zM219 368h1v1h-1zM222 368h1v1h-1zM214 369h1v1h-1zM216 369h2v1h-2zM219 369h8v1h-8zM214 370h1v1h-1zM216 370h1v1h-1zM218 370h1v1h-1zM222 370h1v1h-1zM214 371h1v1h-1zM216 371h2v1h-2zM222 371h1v1h-1zM214 372h1v1h-1zM216 372h1v1h-1zM222 372h1v1h-1zM216 373h1v1h-1zM219 373h7v1h-7zM216 374h1v1h-1zM222 374h1v1h-1zM216 375h1v1h-1zM222 375h1v1h-1zM216 376h1v1h-1zM222 376h1v1h-1zM216 377h1v1h-1zM222 377h1v1h-1zM216 378h1v1h-1zM218 378h9v1h-9zM280 324h1v1h-1zM274 325h13v1h-13zM274 326h1v1h-1zM278 326h1v1h-1zM284 326h1v1h-1zM286 326h1v1h-1zM279 327h1v1h-1zM282 327h1v1h-1zM275 328h1v1h-1zM277 328h1v1h-1zM281 328h1v1h-1zM284 328h1v1h-1zM275 329h1v1h-1zM277 329h1v1h-1zM279 329h2v1h-2zM283 329h1v1h-1zM285 329h1v1h-1zM274 330h1v1h-1zM277 330h2v1h-2zM283 330h1v1h-1zM285 330h1v1h-1zM275 331h2v1h-2zM278 331h6v1h-6zM280 332h1v1h-1zM276 333h1v1h-1zM280 333h1v1h-1zM284 333h1v1h-1zM276 334h1v1h-1zM280 334h1v1h-1zM284 334h1v1h-1zM276 335h1v1h-1zM280 335h1v1h-1zM284 335h1v1h-1zM276 336h9v1h-9zM274 339h5v1h-5zM280 339h5v1h-5zM276 340h1v1h-1zM284 340h1v1h-1zM276 341h1v1h-1zM280 341h1v1h-1zM284 341h1v1h-1zM275 342h1v1h-1zM280 342h1v1h-1zM284 342h1v1h-1zM275 343h4v1h-4zM280 343h1v1h-1zM284 343h1v1h-1zM274 344h2v1h-2zM278 344h1v1h-1zM280 344h7v1h-7zM275 345h1v1h-1zM278 345h1v1h-1zM286 345h1v1h-1zM275 346h1v1h-1zM278 346h7v1h-7zM286 346h1v1h-1zM275 347h1v1h-1zM278 347h1v1h-1zM286 347h1v1h-1zM275 348h4v1h-4zM286 348h1v1h-1zM275 349h1v1h-1zM278 349h1v1h-1zM283 349h1v1h-1zM285 349h1v1h-1zM284 350h1v1h-1zM277 352h1v1h-1zM281 352h1v1h-1zM277 353h1v1h-1zM281 353h1v1h-1zM277 354h1v1h-1zM281 354h5v1h-5zM276 355h1v1h-1zM278 355h1v1h-1zM280 355h2v1h-2zM284 355h1v1h-1zM276 356h1v1h-1zM278 356h2v1h-2zM282 356h2v1h-2zM275 357h2v1h-2zM278 357h1v1h-1zM281 357h1v1h-1zM284 357h1v1h-1zM274 358h1v1h-1zM276 358h1v1h-1zM278 358h3v1h-3zM283 358h1v1h-1zM285 358h2v1h-2zM276 359h1v1h-1zM278 359h1v1h-1zM282 359h1v1h-1zM276 360h1v1h-1zM278 360h1v1h-1zM280 360h2v1h-2zM284 360h1v1h-1zM276 361h1v1h-1zM278 361h1v1h-1zM282 361h2v1h-2zM285 361h1v1h-1zM276 362h1v1h-1zM278 362h1v1h-1zM280 362h2v1h-2zM284 362h1v1h-1zM276 363h1v1h-1zM282 363h2v1h-2zM276 364h1v1h-1zM279 364h3v1h-3zM281 366h1v1h-1zM274 367h5v1h-5zM281 367h1v1h-1zM278 368h1v1h-1zM281 368h6v1h-6zM278 369h1v1h-1zM280 369h1v1h-1zM285 369h1v1h-1zM278 370h2v1h-2zM281 370h1v1h-1zM285 370h1v1h-1zM275 371h4v1h-4zM281 371h1v1h-1zM285 371h1v1h-1zM275 372h1v1h-1zM282 372h1v1h-1zM284 372h1v1h-1zM275 373h1v1h-1zM282 373h1v1h-1zM284 373h1v1h-1zM275 374h1v1h-1zM278 374h1v1h-1zM283 374h1v1h-1zM275 375h1v1h-1zM277 375h1v1h-1zM283 375h1v1h-1zM275 376h2v1h-2zM282 376h1v1h-1zM284 376h1v1h-1zM275 377h1v1h-1zM281 377h1v1h-1zM285 377h1v1h-1zM279 378h2v1h-2zM286 378h1v1h-1zM336 317h1v1h-1zM342 317h1v1h-1zM336 318h5v1h-5zM342 318h5v1h-5zM335 319h1v1h-1zM337 319h1v1h-1zM341 319h1v1h-1zM343 319h1v1h-1zM334 320h1v1h-1zM338 320h1v1h-1zM340 320h1v1h-1zM344 320h1v1h-1zM335 321h11v1h-11zM335 322h1v1h-1zM345 322h1v1h-1zM336 323h9v1h-9zM336 324h1v1h-1zM344 324h1v1h-1zM336 325h9v1h-9zM336 326h1v1h-1zM336 327h9v1h-9zM336 328h1v1h-1zM344 328h1v1h-1zM336 329h9v1h-9zM334 332h5v1h-5zM340 332h6v1h-6zM336 333h1v1h-1zM340 333h1v1h-1zM342 333h1v1h-1zM345 333h1v1h-1zM336 334h1v1h-1zM340 334h6v1h-6zM336 335h1v1h-1zM340 335h1v1h-1zM342 335h1v1h-1zM345 335h1v1h-1zM334 336h5v1h-5zM340 336h1v1h-1zM342 336h1v1h-1zM345 336h1v1h-1zM336 337h1v1h-1zM340 337h6v1h-6zM336 338h1v1h-1zM342 338h1v1h-1zM336 339h1v1h-1zM342 339h1v1h-1zM336 340h3v1h-3zM340 340h6v1h-6zM334 341h2v1h-2zM342 341h1v1h-1zM342 342h1v1h-1zM339 343h8v1h-8zM337 345h7v1h-7zM337 346h1v1h-1zM343 346h1v1h-1zM337 347h7v1h-7zM336 349h9v1h-9zM336 350h1v1h-1zM344 350h1v1h-1zM336 351h1v1h-1zM340 351h1v1h-1zM344 351h1v1h-1zM336 352h1v1h-1zM340 352h1v1h-1zM344 352h1v1h-1zM336 353h1v1h-1zM340 353h1v1h-1zM344 353h1v1h-1zM336 354h1v1h-1zM339 354h1v1h-1zM341 354h1v1h-1zM344 354h1v1h-1zM338 355h1v1h-1zM342 355h1v1h-1zM337 356h1v1h-1zM343 356h1v1h-1zM335 357h2v1h-2zM344 357h2v1h-2zM336 359h1v1h-1zM340 359h1v1h-1zM336 360h1v1h-1zM340 360h1v1h-1zM342 360h1v1h-1zM335 361h1v1h-1zM339 361h1v1h-1zM343 361h1v1h-1zM335 362h1v1h-1zM337 362h1v1h-1zM339 362h8v1h-8zM334 363h3v1h-3zM338 363h2v1h-2zM343 363h1v1h-1zM336 364h1v1h-1zM339 364h1v1h-1zM343 364h1v1h-1zM335 365h1v1h-1zM337 365h1v1h-1zM339 365h7v1h-7zM334 366h3v1h-3zM339 366h1v1h-1zM343 366h1v1h-1zM339 367h1v1h-1zM343 367h1v1h-1zM336 368h2v1h-2zM339 368h7v1h-7zM334 369h2v1h-2zM339 369h1v1h-1zM343 369h1v1h-1zM339 370h1v1h-1zM343 370h1v1h-1zM339 371h8v1h-8zM336 373h1v1h-1zM342 373h1v1h-1zM336 374h1v1h-1zM343 374h1v1h-1zM334 375h5v1h-5zM340 375h7v1h-7zM336 376h1v1h-1zM340 376h1v1h-1zM346 376h1v1h-1zM336 377h1v1h-1zM340 377h1v1h-1zM346 377h1v1h-1zM336 378h1v1h-1zM338 378h1v1h-1zM340 378h7v1h-7zM336 379h2v1h-2zM340 379h1v1h-1zM334 380h3v1h-3zM340 380h1v1h-1zM336 381h1v1h-1zM340 381h1v1h-1zM336 382h1v1h-1zM340 382h1v1h-1zM336 383h1v1h-1zM339 383h1v1h-1zM334 384h1v1h-1zM336 384h1v1h-1zM339 384h1v1h-1zM335 385h1v1h-1zM338 385h1v1h-1zM400 324h1v1h-1zM399 325h1v1h-1zM401 325h1v1h-1zM398 326h1v1h-1zM402 326h1v1h-1zM397 327h1v1h-1zM403 327h1v1h-1zM396 328h1v1h-1zM404 328h1v1h-1zM394 329h2v1h-2zM397 329h7v1h-7zM405 329h2v1h-2zM397 331h7v1h-7zM397 332h1v1h-1zM403 332h1v1h-1zM397 333h1v1h-1zM403 333h1v1h-1zM397 334h1v1h-1zM403 334h1v1h-1zM397 335h7v1h-7zM397 336h1v1h-1zM403 336h1v1h-1zM395 339h11v1h-11zM395 340h1v1h-1zM405 340h1v1h-1zM395 341h1v1h-1zM397 341h7v1h-7zM405 341h1v1h-1zM395 342h1v1h-1zM405 342h1v1h-1zM395 343h1v1h-1zM398 343h5v1h-5zM405 343h1v1h-1zM395 344h1v1h-1zM398 344h1v1h-1zM402 344h1v1h-1zM405 344h1v1h-1zM395 345h1v1h-1zM398 345h1v1h-1zM402 345h1v1h-1zM405 345h1v1h-1zM395 346h1v1h-1zM398 346h5v1h-5zM405 346h1v1h-1zM395 347h1v1h-1zM398 347h1v1h-1zM402 347h1v1h-1zM405 347h1v1h-1zM395 348h1v1h-1zM405 348h1v1h-1zM395 349h1v1h-1zM403 349h1v1h-1zM405 349h1v1h-1zM395 350h1v1h-1zM404 350h1v1h-1zM396 352h1v1h-1zM402 352h1v1h-1zM396 353h5v1h-5zM402 353h5v1h-5zM395 354h1v1h-1zM397 354h1v1h-1zM401 354h1v1h-1zM403 354h1v1h-1zM394 355h1v1h-1zM398 355h1v1h-1zM400 355h1v1h-1zM404 355h1v1h-1zM399 356h1v1h-1zM401 356h1v1h-1zM397 357h2v1h-2zM402 357h2v1h-2zM394 358h3v1h-3zM404 358h3v1h-3zM397 359h7v1h-7zM399 360h1v1h-1zM403 360h1v1h-1zM397 361h1v1h-1zM400 361h1v1h-1zM403 361h1v1h-1zM398 362h1v1h-1zM400 362h1v1h-1zM402 362h1v1h-1zM398 363h1v1h-1zM401 363h1v1h-1zM394 364h13v1h-13zM395 366h1v1h-1zM396 367h1v1h-1zM399 367h8v1h-8zM396 368h1v1h-1zM403 368h1v1h-1zM403 369h1v1h-1zM394 370h3v1h-3zM403 370h1v1h-1zM396 371h1v1h-1zM403 371h1v1h-1zM396 372h1v1h-1zM403 372h1v1h-1zM396 373h1v1h-1zM403 373h1v1h-1zM396 374h1v1h-1zM403 374h1v1h-1zM396 375h1v1h-1zM398 375h1v1h-1zM403 375h1v1h-1zM396 376h2v1h-2zM403 376h1v1h-1zM396 377h1v1h-1zM401 377h1v1h-1zM403 377h1v1h-1zM402 378h1v1h-1zM460 324h1v1h-1zM459 325h1v1h-1zM461 325h1v1h-1zM458 326h1v1h-1zM462 326h1v1h-1zM457 327h1v1h-1zM463 327h1v1h-1zM456 328h1v1h-1zM464 328h1v1h-1zM454 329h2v1h-2zM457 329h7v1h-7zM465 329h2v1h-2zM457 331h7v1h-7zM457 332h1v1h-1zM463 332h1v1h-1zM457 333h1v1h-1zM463 333h1v1h-1zM457 334h1v1h-1zM463 334h1v1h-1zM457 335h7v1h-7zM457 336h1v1h-1zM463 336h1v1h-1zM455 339h11v1h-11zM455 340h1v1h-1zM465 340h1v1h-1zM455 341h1v1h-1zM457 341h7v1h-7zM465 341h1v1h-1zM455 342h1v1h-1zM465 342h1v1h-1zM455 343h1v1h-1zM458 343h5v1h-5zM465 343h1v1h-1zM455 344h1v1h-1zM458 344h1v1h-1zM462 344h1v1h-1zM465 344h1v1h-1zM455 345h1v1h-1zM458 345h1v1h-1zM462 345h1v1h-1zM465 345h1v1h-1zM455 346h1v1h-1zM458 346h5v1h-5zM465 346h1v1h-1zM455 347h1v1h-1zM458 347h1v1h-1zM462 347h1v1h-1zM465 347h1v1h-1zM455 348h1v1h-1zM465 348h1v1h-1zM455 349h1v1h-1zM463 349h1v1h-1zM465 349h1v1h-1zM455 350h1v1h-1zM464 350h1v1h-1zM456 352h1v1h-1zM462 352h1v1h-1zM456 353h5v1h-5zM462 353h5v1h-5zM455 354h1v1h-1zM457 354h1v1h-1zM461 354h1v1h-1zM463 354h1v1h-1zM454 355h1v1h-1zM458 355h1v1h-1zM460 355h1v1h-1zM464 355h1v1h-1zM455 356h11v1h-11zM455 357h1v1h-1zM465 357h1v1h-1zM456 358h9v1h-9zM456 359h1v1h-1zM464 359h1v1h-1zM456 360h9v1h-9zM456 361h1v1h-1zM456 362h9v1h-9zM456 363h1v1h-1zM464 363h1v1h-1zM456 364h9v1h-9zM454 367h5v1h-5zM460 367h6v1h-6zM456 368h1v1h-1zM460 368h1v1h-1zM462 368h1v1h-1zM465 368h1v1h-1zM456 369h1v1h-1zM460 369h6v1h-6zM456 370h1v1h-1zM460 370h1v1h-1zM462 370h1v1h-1zM465 370h1v1h-1zM454 371h5v1h-5zM460 371h1v1h-1zM462 371h1v1h-1zM465 371h1v1h-1zM456 372h1v1h-1zM460 372h6v1h-6zM456 373h1v1h-1zM462 373h1v1h-1zM456 374h1v1h-1zM462 374h1v1h-1zM456 375h3v1h-3zM460 375h6v1h-6zM454 376h2v1h-2zM462 376h1v1h-1zM462 377h1v1h-1zM459 378h8v1h-8zM520 324h1v1h-1zM519 325h1v1h-1zM521 325h1v1h-1zM518 326h1v1h-1zM522 326h1v1h-1zM517 327h1v1h-1zM523 327h1v1h-1zM516 328h1v1h-1zM524 328h1v1h-1zM514 329h2v1h-2zM517 329h7v1h-7zM525 329h2v1h-2zM517 331h7v1h-7zM517 332h1v1h-1zM523 332h1v1h-1zM517 333h1v1h-1zM523 333h1v1h-1zM517 334h1v1h-1zM523 334h1v1h-1zM517 335h7v1h-7zM517 336h1v1h-1zM523 336h1v1h-1zM515 339h11v1h-11zM515 340h1v1h-1zM525 340h1v1h-1zM515 341h1v1h-1zM517 341h7v1h-7zM525 341h1v1h-1zM515 342h1v1h-1zM525 342h1v1h-1zM515 343h1v1h-1zM518 343h5v1h-5zM525 343h1v1h-1zM515 344h1v1h-1zM518 344h1v1h-1zM522 344h1v1h-1zM525 344h1v1h-1zM515 345h1v1h-1zM518 345h1v1h-1zM522 345h1v1h-1zM525 345h1v1h-1zM515 346h1v1h-1zM518 346h5v1h-5zM525 346h1v1h-1zM515 347h1v1h-1zM518 347h1v1h-1zM522 347h1v1h-1zM525 347h1v1h-1zM515 348h1v1h-1zM525 348h1v1h-1zM515 349h1v1h-1zM523 349h1v1h-1zM525 349h1v1h-1zM515 350h1v1h-1zM524 350h1v1h-1zM520 352h1v1h-1zM520 353h1v1h-1zM514 354h13v1h-13zM518 355h1v1h-1zM520 355h1v1h-1zM522 355h1v1h-1zM517 356h1v1h-1zM520 356h1v1h-1zM523 356h1v1h-1zM516 357h1v1h-1zM520 357h1v1h-1zM524 357h1v1h-1zM514 358h2v1h-2zM517 358h7v1h-7zM525 358h2v1h-2zM517 359h1v1h-1zM523 359h1v1h-1zM517 360h7v1h-7zM517 361h1v1h-1zM523 361h1v1h-1zM517 362h7v1h-7zM514 364h13v1h-13zM515 366h1v1h-1zM520 366h1v1h-1zM516 367h1v1h-1zM520 367h1v1h-1zM516 368h1v1h-1zM520 368h7v1h-7zM519 369h1v1h-1zM526 369h1v1h-1zM514 370h3v1h-3zM518 370h1v1h-1zM520 370h4v1h-4zM526 370h1v1h-1zM516 371h1v1h-1zM520 371h1v1h-1zM523 371h1v1h-1zM526 371h1v1h-1zM516 372h1v1h-1zM520 372h4v1h-4zM526 372h1v1h-1zM516 373h1v1h-1zM520 373h1v1h-1zM523 373h1v1h-1zM526 373h1v1h-1zM516 374h1v1h-1zM520 374h1v1h-1zM523 374h1v1h-1zM526 374h1v1h-1zM516 375h1v1h-1zM518 375h1v1h-1zM520 375h4v1h-4zM526 375h1v1h-1zM516 376h2v1h-2zM526 376h1v1h-1zM516 377h1v1h-1zM524 377h1v1h-1zM526 377h1v1h-1zM525 378h1v1h-1zM579 311h8v1h-8zM574 312h5v1h-5zM582 312h1v1h-1zM576 313h1v1h-1zM580 313h6v1h-6zM576 314h1v1h-1zM580 314h1v1h-1zM585 314h1v1h-1zM576 315h1v1h-1zM580 315h1v1h-1zM582 315h1v1h-1zM585 315h1v1h-1zM576 316h1v1h-1zM580 316h1v1h-1zM582 316h1v1h-1zM585 316h1v1h-1zM576 317h1v1h-1zM580 317h1v1h-1zM582 317h1v1h-1zM585 317h1v1h-1zM576 318h3v1h-3zM580 318h1v1h-1zM582 318h1v1h-1zM585 318h1v1h-1zM574 319h2v1h-2zM580 319h1v1h-1zM582 319h1v1h-1zM585 319h1v1h-1zM581 320h1v1h-1zM583 320h1v1h-1zM580 321h1v1h-1zM584 321h1v1h-1zM578 322h2v1h-2zM585 322h2v1h-2zM576 325h9v1h-9zM576 326h1v1h-1zM584 326h1v1h-1zM576 327h1v1h-1zM584 327h1v1h-1zM576 328h9v1h-9zM576 329h1v1h-1zM584 329h1v1h-1zM576 330h1v1h-1zM584 330h1v1h-1zM576 331h9v1h-9zM576 332h1v1h-1zM584 332h1v1h-1zM576 333h1v1h-1zM584 333h1v1h-1zM576 334h1v1h-1zM584 334h1v1h-1zM576 335h9v1h-9zM576 336h1v1h-1zM584 336h1v1h-1zM575 338h1v1h-1zM576 339h1v1h-1zM579 339h7v1h-7zM576 340h1v1h-1zM582 340h1v1h-1zM579 341h1v1h-1zM582 341h1v1h-1zM585 341h1v1h-1zM574 342h3v1h-3zM580 342h1v1h-1zM582 342h1v1h-1zM584 342h1v1h-1zM576 343h1v1h-1zM582 343h1v1h-1zM576 344h1v1h-1zM578 344h9v1h-9zM576 345h1v1h-1zM582 345h1v1h-1zM576 346h1v1h-1zM582 346h1v1h-1zM576 347h1v1h-1zM578 347h1v1h-1zM582 347h1v1h-1zM576 348h2v1h-2zM582 348h1v1h-1zM576 349h1v1h-1zM582 349h1v1h-1zM582 350h1v1h-1zM580 352h1v1h-1zM580 353h1v1h-1zM579 354h1v1h-1zM581 354h1v1h-1zM578 355h1v1h-1zM582 355h1v1h-1zM576 356h2v1h-2zM583 356h2v1h-2zM574 357h2v1h-2zM578 357h1v1h-1zM582 357h1v1h-1zM585 357h2v1h-2zM578 358h1v1h-1zM582 358h1v1h-1zM578 359h1v1h-1zM582 359h1v1h-1zM578 360h1v1h-1zM582 360h1v1h-1zM578 361h1v1h-1zM582 361h1v1h-1zM577 362h1v1h-1zM582 362h1v1h-1zM577 363h1v1h-1zM582 363h1v1h-1zM576 364h1v1h-1zM582 364h1v1h-1zM576 366h1v1h-1zM582 366h1v1h-1zM576 367h5v1h-5zM582 367h5v1h-5zM575 368h1v1h-1zM577 368h1v1h-1zM581 368h1v1h-1zM583 368h1v1h-1zM574 369h1v1h-1zM578 369h1v1h-1zM580 369h1v1h-1zM584 369h1v1h-1zM575 370h11v1h-11zM575 371h1v1h-1zM585 371h1v1h-1zM576 372h9v1h-9zM576 373h1v1h-1zM584 373h1v1h-1zM576 374h9v1h-9zM576 375h1v1h-1zM576 376h9v1h-9zM576 377h1v1h-1zM584 377h1v1h-1zM576 378h9v1h-9zM574 381h5v1h-5zM580 381h6v1h-6zM576 382h1v1h-1zM580 382h1v1h-1zM582 382h1v1h-1zM585 382h1v1h-1zM576 383h1v1h-1zM580 383h6v1h-6zM576 384h1v1h-1zM580 384h1v1h-1zM582 384h1v1h-1zM585 384h1v1h-1zM574 385h5v1h-5zM580 385h1v1h-1zM582 385h1v1h-1zM585 385h1v1h-1zM576 386h1v1h-1zM580 386h6v1h-6zM576 387h1v1h-1zM582 387h1v1h-1zM576 388h1v1h-1zM582 388h1v1h-1zM576 389h3v1h-3zM580 389h6v1h-6zM574 390h2v1h-2zM582 390h1v1h-1zM582 391h1v1h-1zM579 392h8v1h-8zM639 325h8v1h-8zM634 326h5v1h-5zM642 326h1v1h-1zM636 327h1v1h-1zM640 327h6v1h-6zM636 328h1v1h-1zM640 328h1v1h-1zM645 328h1v1h-1zM636 329h1v1h-1zM640 329h1v1h-1zM642 329h1v1h-1zM645 329h1v1h-1zM636 330h1v1h-1zM640 330h1v1h-1zM642 330h1v1h-1zM645 330h1v1h-1zM636 331h1v1h-1zM640 331h1v1h-1zM642 331h1v1h-1zM645 331h1v1h-1zM636 332h3v1h-3zM640 332h1v1h-1zM642 332h1v1h-1zM645 332h1v1h-1zM634 333h2v1h-2zM640 333h1v1h-1zM642 333h1v1h-1zM645 333h1v1h-1zM641 334h1v1h-1zM643 334h1v1h-1zM640 335h1v1h-1zM644 335h1v1h-1zM638 336h2v1h-2zM645 336h2v1h-2zM636 339h9v1h-9zM636 340h1v1h-1zM644 340h1v1h-1zM636 341h1v1h-1zM644 341h1v1h-1zM636 342h9v1h-9zM636 343h1v1h-1zM644 343h1v1h-1zM636 344h1v1h-1zM644 344h1v1h-1zM636 345h9v1h-9zM636 346h1v1h-1zM644 346h1v1h-1zM636 347h1v1h-1zM644 347h1v1h-1zM636 348h1v1h-1zM644 348h1v1h-1zM636 349h9v1h-9zM636 350h1v1h-1zM644 350h1v1h-1zM635 352h1v1h-1zM636 353h1v1h-1zM639 353h7v1h-7zM636 354h1v1h-1zM642 354h1v1h-1zM639 355h1v1h-1zM642 355h1v1h-1zM645 355h1v1h-1zM634 356h3v1h-3zM640 356h1v1h-1zM642 356h1v1h-1zM644 356h1v1h-1zM636 357h1v1h-1zM642 357h1v1h-1zM636 358h1v1h-1zM638 358h9v1h-9zM636 359h1v1h-1zM642 359h1v1h-1zM636 360h1v1h-1zM642 360h1v1h-1zM636 361h1v1h-1zM638 361h1v1h-1zM642 361h1v1h-1zM636 362h2v1h-2zM642 362h1v1h-1zM636 363h1v1h-1zM642 363h1v1h-1zM642 364h1v1h-1zM637 366h1v1h-1zM642 366h1v1h-1zM637 367h1v1h-1zM642 367h1v1h-1zM636 368h1v1h-1zM641 368h1v1h-1zM643 368h1v1h-1zM636 369h1v1h-1zM640 369h1v1h-1zM644 369h1v1h-1zM635 370h2v1h-2zM639 370h1v1h-1zM645 370h1v1h-1zM634 371h1v1h-1zM636 371h1v1h-1zM638 371h1v1h-1zM640 371h1v1h-1zM644 371h1v1h-1zM646 371h1v1h-1zM636 372h1v1h-1zM640 372h1v1h-1zM644 372h1v1h-1zM636 373h1v1h-1zM640 373h1v1h-1zM644 373h1v1h-1zM636 374h1v1h-1zM640 374h1v1h-1zM644 374h1v1h-1zM636 375h1v1h-1zM640 375h1v1h-1zM644 375h1v1h-1zM636 376h1v1h-1zM640 376h1v1h-1zM644 376h1v1h-1zM636 377h1v1h-1zM639 377h1v1h-1zM644 377h1v1h-1zM636 378h1v1h-1zM638 378h1v1h-1zM644 378h1v1h-1z" fill="#000"/>
<path d="M428 22h1v4h-1z M422 26h6v1h-6z M423 25h1v3h-1z M424 24h1v5h-1zM135 204h1v1h-1z M134 205h3v1h-3z M133 206h5v1h-5z M135 207h1v3h-1z M136 210h4v1h-4zM303 204h1v1h-1z M302 205h3v1h-3z M301 206h5v1h-5z M303 207h1v3h-1z M304 210h4v1h-4zM459 204h1v1h-1z M458 205h3v1h-3z M457 206h5v1h-5z M459 207h1v3h-1z M460 210h4v1h-4zM603 218h1v1h-1z M602 219h3v1h-3z M601 220h5v1h-5z M603 221h1v3h-1z M604 224h4v1h-4zM39 395h1v1h-1z M38 396h3v1h-3z M37 397h5v1h-5z M39 398h1v3h-1z M40 401h4v1h-4zM99 395h1v1h-1z M98 396h3v1h-3z M97 397h5v1h-5z M99 398h1v3h-1z M100 401h4v1h-4zM159 388h1v1h-1z M158 389h3v1h-3z M157 390h5v1h-5z M159 391h1v3h-1z M160 394h4v1h-4zM219 381h1v1h-1z M218 382h3v1h-3z M217 383h5v1h-5z M219 384h1v3h-1z M220 387h4v1h-4zM279 381h1v1h-1z M278 382h3v1h-3z M277 383h5v1h-5z M279 384h1v3h-1z M280 387h4v1h-4zM339 388h1v1h-1z M338 389h3v1h-3z M337 390h5v1h-5z M339 391h1v3h-1z M340 394h4v1h-4zM399 381h1v1h-1z M398 382h3v1h-3z M397 383h5v1h-5z M399 384h1v3h-1z M400 387h4v1h-4zM459 381h1v1h-1z M458 382h3v1h-3z M457 383h5v1h-5z M459 384h1v3h-1z M460 387h4v1h-4zM519 381h1v1h-1z M518 382h3v1h-3z M517 383h5v1h-5z M519 384h1v3h-1z M520 387h4v1h-4zM579 395h1v1h-1z M578 396h3v1h-3z M577 397h5v1h-5z M579 398h1v3h-1z M580 401h4v1h-4zM639 381h1v1h-1z M638 382h3v1h-3z M637 383h5v1h-5z M639 384h1v3h-1z M640 387h2v1h-2z M644 382h1v1h-1z M643 383h1v1h-1zM666 413h1v5h-1z M661 417h5v1h-5z M662 416h1v3h-1z M663 415h1v1h-1z M663 419h1v1h-1z" fill="#808080"/>
</svg>
</body></html>
